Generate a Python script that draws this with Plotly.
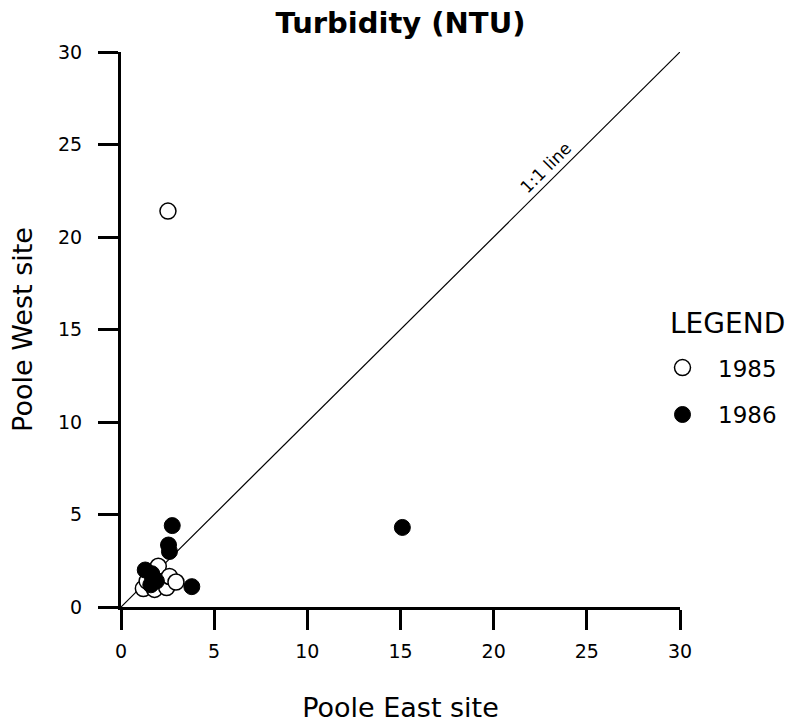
import plotly.graph_objects as go

# 1985 (open circles)
east_1985 = [2.52, 1.2, 1.4, 1.8, 2.0, 2.45, 2.6, 2.95, 1.7]
west_1985 = [21.4, 1.0, 1.4, 0.95, 2.2, 1.05, 1.65, 1.35, 1.6]
# 1986 (filled circles)
east_1986 = [2.75, 2.55, 2.6, 1.3, 1.65, 1.9, 1.6, 3.8, 15.1]
west_1986 = [4.4, 3.35, 3.0, 2.0, 1.8, 1.4, 1.2, 1.1, 4.3]

line_x = [0, 30]
line_y = [0, 30]
ticks = [0, 5, 10, 15, 20, 25, 30]

FONT = "DejaVu Sans, Liberation Sans, Arial, sans-serif"

fig = go.Figure()
fig.add_trace(go.Scatter(x=line_x, y=line_y, mode="lines",
                         line=dict(color="black", width=1.2),
                         showlegend=False, hoverinfo="skip"))
fig.add_trace(go.Scatter(x=east_1985, y=west_1985, mode="markers", name="1985",
                         legendgroup="a",
                         marker=dict(size=16, color="white", symbol="circle",
                                     line=dict(color="black", width=1.5)),
                         cliponaxis=False))
fig.add_trace(go.Scatter(x=east_1986, y=west_1986, mode="markers", name="1986",
                         legendgroup="b",
                         marker=dict(size=16, color="black", symbol="circle",
                                     line=dict(color="black", width=1)),
                         cliponaxis=False))

axis_common = dict(
    range=[0, 30], tickvals=ticks, ticktext=[str(t) for t in ticks],
    showline=True, linecolor="black", linewidth=3,
    ticks="outside", ticklen=20, tickwidth=3, tickcolor="black",
    showgrid=False, zeroline=False, automargin=False,
    tickfont=dict(family=FONT, size=19, color="black"),
)

fig.update_layout(
    width=801, height=725,
    margin=dict(l=121, r=121, t=52, b=118),
    plot_bgcolor="white", paper_bgcolor="white",
    title=dict(text="<b>Turbidity (NTU)</b>", x=0.5, xanchor="center",
               y=0.969, yanchor="middle",
               font=dict(family=FONT, size=29, color="black")),
    xaxis=dict(**axis_common, ticklabelstandoff=5,
               title=dict(text="Poole East site", standoff=38,
                          font=dict(family=FONT, size=27, color="black"))),
    yaxis=dict(**axis_common, ticklabelstandoff=12,
               title=dict(text="Poole West site", standoff=18,
                          font=dict(family=FONT, size=27, color="black"))),
    legend=dict(x=(647 - 121) / 559, xanchor="left", y=0.47, yanchor="top",
                font=dict(family=FONT, size=23, color="black"),
                itemwidth=61,
                tracegroupgap=14, bgcolor="rgba(0,0,0,0)"),
    annotations=[
        dict(x=23.2, y=23.2, xref="x", yref="y", text="1:1 line",
             showarrow=False, textangle=-45, xshift=-8, yshift=10,
             font=dict(family=FONT, size=17, color="black")),
        dict(x=(668 - 121) / 559, y=(607 - 323) / 555, xref="paper", yref="paper",
             text="LEGEND", showarrow=False, xanchor="left", yanchor="middle",
             font=dict(family=FONT, size=28, color="black")),
    ],
)

fig.write_html("out.html")
